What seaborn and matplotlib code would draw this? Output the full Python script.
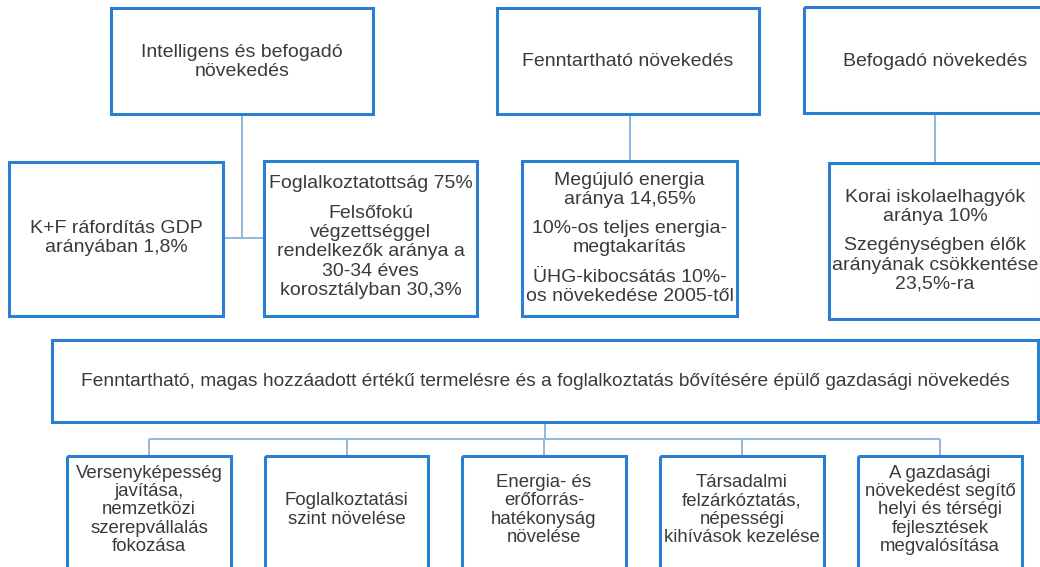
import seaborn as sns
import matplotlib.pyplot as plt
from matplotlib.patches import Rectangle

# texts of the diagram
goal_titles = [
    "Intelligens és befogadó\nnövekedés",
    "Fenntartható növekedés",
    "Befogadó növekedés",
]
target_texts = [
    ["K+F ráfordítás GDP\narányában 1,8%"],
    ["Foglalkoztatottság 75%",
     "Felsőfokú\nvégzettséggel\nrendelkezők aránya a\n30-34 éves\nkorosztályban 30,3%"],
    ["Megújuló energia\naránya 14,65%",
     "10%-os teljes energia-\nmegtakarítás",
     "ÜHG-kibocsátás 10%-\nos növekedése 2005-től"],
    ["Korai iskolaelhagyók\naránya 10%",
     "Szegénységben élők\narányának csökkentése\n23,5%-ra"],
]
main_goal = ("Fenntartható, magas hozzáadott értékű termelésre és a "
             "foglalkoztatás bővítésére épülő gazdasági növekedés")
priorities = [
    "Versenyképesség\njavítása,\nnemzetközi\nszerepvállalás\nfokozása",
    "Foglalkoztatási\nszint növelése",
    "Energia- és\nerőforrás-\nhatékonyság\nnövelése",
    "Társadalmi\nfelzárkóztatás,\nnépességi\nkihívások kezelése",
    "A gazdasági\nnövekedést segítő\nhelyi és térségi\nfejlesztések\nmegvalósítása",
]

# layout in pixels (x0, x1, y0, y1)
goal_boxes = [(111, 373, 8, 114), (497, 759, 8, 114), (804, 1066, 7, 113)]
target_boxes = [(9, 223, 162, 316), (264, 477, 161, 316),
                (522, 737, 161, 316), (829, 1041, 163, 319)]
target_text_y = [[238], [183, 252], [190, 238, 287], [207, 265]]
main_box = (52, 1038, 340, 422)
prio_boxes = [(67, 231), (265, 428), (462, 626), (660, 824), (858, 1022)]
prio_top, prio_bottom, bus_y = 456, 600, 439

box_color = "#2a7fd4"
line_color = "#8fb8e0"
text_color = "#3a3a3a"

sns.set_theme(style="white")
plt.rcParams["font.family"] = ["Liberation Sans", "DejaVu Sans"]

fig = plt.figure(figsize=(10.4, 5.67), dpi=100)
ax = fig.add_axes([0, 0, 1, 1])
ax.set_xlim(0, 1040)
ax.set_ylim(567, 0)
ax.axis("off")


def box(x0, x1, y0, y1):
    ax.add_patch(Rectangle((x0, y0), x1 - x0, y1 - y0, fill=False,
                           edgecolor=box_color, linewidth=2.2, zorder=3))


def label(x, y, s, size=14, ls=1.18):
    ax.text(x, y, s, ha="center", va="center", color=text_color,
            fontsize=size, linespacing=ls, zorder=4)


def connect(xs, ys):
    ax.plot(xs, ys, color=line_color, linewidth=1.4, zorder=2,
            solid_capstyle="butt")


# top goals
for (x0, x1, y0, y1), title in zip(goal_boxes, goal_titles):
    box(x0, x1, y0, y1)
    label((x0 + x1) / 2, (y0 + y1) / 2 + 1, title)

for (x0, x1, y0, y1), paras, ys in zip(target_boxes, target_texts, target_text_y):
    box(x0, x1, y0, y1)
    for p, y in zip(paras, ys):
        label((x0 + x1) / 2, y, p)

# connectors of the upper part
gx = (goal_boxes[0][0] + goal_boxes[0][1]) / 2
connect([gx, gx], [goal_boxes[0][3], 238])
connect([target_boxes[0][1], target_boxes[1][0]], [238, 238])
for g, t in [(1, 2), (2, 3)]:
    cx = (target_boxes[t][0] + target_boxes[t][1]) / 2
    connect([cx, cx], [goal_boxes[g][3], target_boxes[t][2]])

# main goal and priorities
box(*main_box)
label((main_box[0] + main_box[1]) / 2, (main_box[2] + main_box[3]) / 2, main_goal,
      size=13.8)

centers = [(a + b) / 2 for a, b in prio_boxes]
connect([545, 545], [main_box[3], bus_y])
connect([centers[0], centers[-1]], [bus_y, bus_y])
for (x0, x1), c, txt in zip(prio_boxes, centers, priorities):
    connect([c, c], [bus_y, prio_top])
    box(x0, x1, prio_top, prio_bottom)
    label(c, 510, txt, size=13.4, ls=1.11)

fig.savefig("out.png", dpi=100)
